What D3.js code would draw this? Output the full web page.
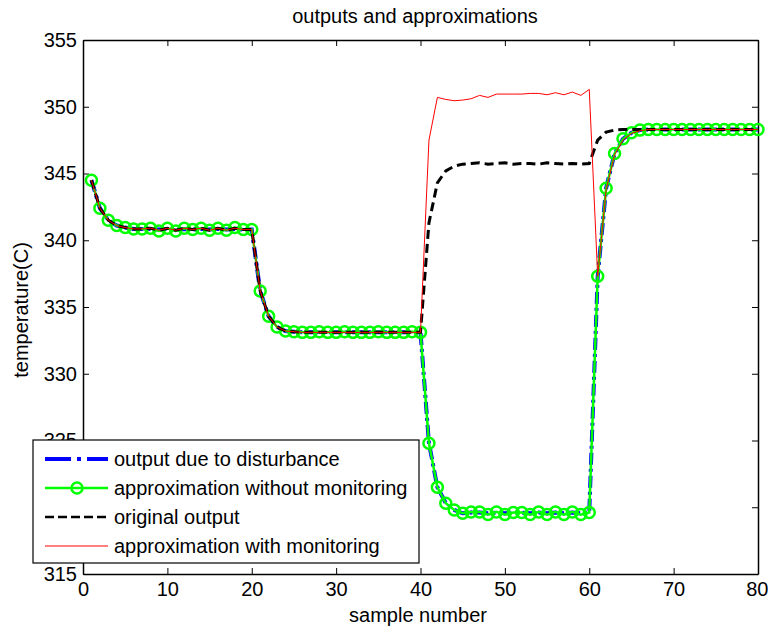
<!DOCTYPE html>
<html>
<head>
<meta charset="utf-8">
<script src="https://cdn.jsdelivr.net/npm/d3@7"></script>
<style>
  html, body { margin: 0; padding: 0; background: #fff; }
  svg { display: block; font-family: "Liberation Sans", Arial, sans-serif; }
</style>
</head>
<body>
<svg id="chart" width="768" height="630"></svg>
<script>
// ---- data ----
const samples = [1,2,3,4,5,6,7,8,9,10,11,12,13,14,15,16,17,18,19,20,
  21,22,23,24,25,26,27,28,29,30,31,32,33,34,35,36,37,38,39,40,
  41,42,43,44,45,46,47,48,49,50,51,52,53,54,55,56,57,58,59,60,
  61,62,63,64,65,66,67,68,69,70,71,72,73,74,75,76,77,78,79,80];

const outputDisturbance = [344.5,342.4,341.5,341.1,340.95,340.85,340.85,340.85,340.8,340.85,340.8,340.85,340.8,340.85,340.8,340.85,340.8,340.85,340.8,340.8,
  336.2,334.3,333.5,333.2,333.15,333.1,333.1,333.1,333.1,333.1,333.1,333.1,333.1,333.1,333.1,333.1,333.1,333.1,333.1,333.1,
  324.8,321.5,320.3,319.8,319.55,319.6,319.6,319.55,319.6,319.55,319.6,319.6,319.55,319.6,319.55,319.6,319.55,319.6,319.55,319.6,
  337.3,343.9,346.5,347.6,348.05,348.25,348.3,348.3,348.3,348.3,348.3,348.3,348.3,348.3,348.3,348.3,348.3,348.3,348.3,348.3];

const approxWithout = [344.5,342.4,341.5,341.1,340.95,340.85,340.85,340.9,340.7,340.9,340.7,340.9,340.8,340.9,340.75,340.9,340.75,340.95,340.8,340.8,
  336.2,334.3,333.5,333.2,333.15,333.1,333.1,333.15,333.1,333.1,333.15,333.1,333.1,333.1,333.15,333.1,333.1,333.1,333.15,333.1,
  324.8,321.5,320.3,319.8,319.55,319.65,319.65,319.45,319.65,319.45,319.6,319.6,319.45,319.65,319.45,319.65,319.45,319.65,319.45,319.6,
  337.3,343.9,346.5,347.6,348.05,348.25,348.3,348.3,348.3,348.3,348.3,348.3,348.3,348.3,348.3,348.3,348.3,348.3,348.3,348.3];

const originalOutput = [344.5,342.4,341.5,341.1,340.95,340.85,340.85,340.9,340.75,340.9,340.75,340.9,340.8,340.9,340.75,340.9,340.75,340.9,340.8,340.8,
  336.2,334.3,333.5,333.2,333.15,333.1,333.1,333.1,333.1,333.1,333.1,333.1,333.1,333.1,333.1,333.1,333.1,333.1,333.1,333.1,
  341.3,344.3,345.2,345.55,345.7,345.75,345.8,345.7,345.75,345.8,345.7,345.75,345.75,345.7,345.8,345.75,345.7,345.75,345.7,345.75,
  347.5,348.1,348.25,348.3,348.3,348.3,348.3,348.3,348.3,348.3,348.3,348.3,348.3,348.3,348.3,348.3,348.3,348.3,348.3,348.3];

const approxWith = [344.5,342.4,341.5,341.1,340.95,340.85,340.85,340.9,340.75,340.9,340.75,340.9,340.8,340.9,340.75,340.9,340.75,340.9,340.8,340.8,
  336.2,334.3,333.5,333.2,333.15,333.1,333.1,333.1,333.1,333.1,333.1,333.1,333.1,333.1,333.1,333.1,333.1,333.1,333.1,333.1,
  347.5,350.7,350.55,350.45,350.5,350.6,350.85,350.7,350.95,350.95,350.95,350.95,351.0,351.0,350.9,351.05,350.9,351.1,350.85,351.3,
  337.3,343.8,346.4,347.5,348.0,348.2,348.3,348.3,348.3,348.3,348.3,348.3,348.3,348.3,348.3,348.3,348.3,348.3,348.3,348.3];

const xTicks = [0,10,20,30,40,50,60,70,80];
const yTicks = [315,320,325,330,335,340,345,350,355];
const legendLabels = ["output due to disturbance","approximation without monitoring","original output","approximation with monitoring"];
const titleText = "outputs and approximations";
const xLabelText = "sample number";
const yLabelText = "temperature(C)";

// ---- layout ----
const svg = d3.select("#chart");
const L = 83, R = 758, T = 40, B = 574;
const x = d3.scaleLinear().domain([0, 80]).range([L, R]);
const y = d3.scaleLinear().domain([315, 355]).range([B, T]);
const FS = 20;

const line = vals => d3.line().x((d, i) => x(samples[i])).y(d => y(d))(vals);

// axes (MATLAB-style box, inward ticks)
const tickLen = 6;
const axB = svg.append("g").attr("transform", `translate(0,${B})`)
  .call(d3.axisBottom(x).tickValues(xTicks).tickSizeInner(-tickLen).tickSizeOuter(0).tickPadding(12));
const axT = svg.append("g").attr("transform", `translate(0,${T})`)
  .call(d3.axisTop(x).tickValues(xTicks).tickSizeInner(-tickLen).tickSizeOuter(0).tickFormat(""));
const axL = svg.append("g").attr("transform", `translate(${L},0)`)
  .call(d3.axisLeft(y).tickValues(yTicks).tickSizeInner(-tickLen).tickSizeOuter(0).tickPadding(12));
const axR = svg.append("g").attr("transform", `translate(${R},0)`)
  .call(d3.axisRight(y).tickValues(yTicks).tickSizeInner(-tickLen).tickSizeOuter(0).tickFormat(""));
[axB, axT, axL, axR].forEach(g => {
  g.select(".domain").attr("stroke", "#000").attr("stroke-width", 1.5);
  g.selectAll(".tick line").attr("stroke", "#000").attr("stroke-width", 1);
  g.selectAll("text").attr("font-family", '"Liberation Sans", Arial, sans-serif')
    .attr("font-size", FS).attr("fill", "#000");
});
axL.selectAll("text").attr("dx", 6);
axB.selectAll("text").attr("dy", "0.71em").attr("y", 8);
// keep the last x label inside the 768px frame
axB.selectAll(".tick text").filter(d => d === 80).attr("text-anchor", "end").attr("dx", 10);

// series
svg.append("path").attr("d", line(outputDisturbance)).attr("fill", "none")
  .attr("stroke", "#0000ff").attr("stroke-width", 4).attr("stroke-dasharray", "12,4,3,4");
svg.append("path").attr("d", line(approxWithout)).attr("fill", "none")
  .attr("stroke", "#00ff00").attr("stroke-width", 2.5);
svg.append("g").selectAll("circle").data(approxWithout).join("circle")
  .attr("cx", (d, i) => x(samples[i])).attr("cy", d => y(d)).attr("r", 5.5)
  .attr("fill", "none").attr("stroke", "#00ff00").attr("stroke-width", 2.5);
svg.append("path").attr("d", line(originalOutput)).attr("fill", "none")
  .attr("stroke", "#000").attr("stroke-width", 3).attr("stroke-dasharray", "9,5");
svg.append("path").attr("d", line(approxWith)).attr("fill", "none")
  .attr("stroke", "#ff0000").attr("stroke-width", 1);

// titles
svg.append("text").attr("x", 415).attr("y", 23).attr("text-anchor", "middle")
  .attr("font-size", FS).text(titleText);
svg.append("text").attr("x", 418).attr("y", 622).attr("text-anchor", "middle")
  .attr("font-size", FS).text(xLabelText);
svg.append("text").attr("transform", "translate(28,310) rotate(-90)").attr("text-anchor", "middle")
  .attr("font-size", FS).text(yLabelText);

// legend
const lg = svg.append("g");
lg.append("rect").attr("x", 33).attr("y", 440).attr("width", 386).attr("height", 123)
  .attr("fill", "#fff").attr("stroke", "#000").attr("stroke-width", 1.2);
const rowY = [459, 488, 517, 546];
const styles = [
  {stroke: "#0000ff", w: 4, dash: "26,6,4,6"},
  {stroke: "#00ff00", w: 2.5, dash: null, marker: true},
  {stroke: "#000", w: 2.5, dash: "9,4"},
  {stroke: "#ff0000", w: 1, dash: null}
];
legendLabels.forEach((lab, i) => {
  const s = styles[i];
  const ln = lg.append("line").attr("x1", 45).attr("x2", 108).attr("y1", rowY[i]).attr("y2", rowY[i])
    .attr("stroke", s.stroke).attr("stroke-width", s.w);
  if (s.dash) ln.attr("stroke-dasharray", s.dash);
  if (s.marker) lg.append("circle").attr("cx", 77).attr("cy", rowY[i]).attr("r", 5.5)
    .attr("fill", "none").attr("stroke", s.stroke).attr("stroke-width", 2.5);
  lg.append("text").attr("x", 114).attr("y", rowY[i] + 7).attr("font-size", FS).text(lab);
});
</script>
</body>
</html>
